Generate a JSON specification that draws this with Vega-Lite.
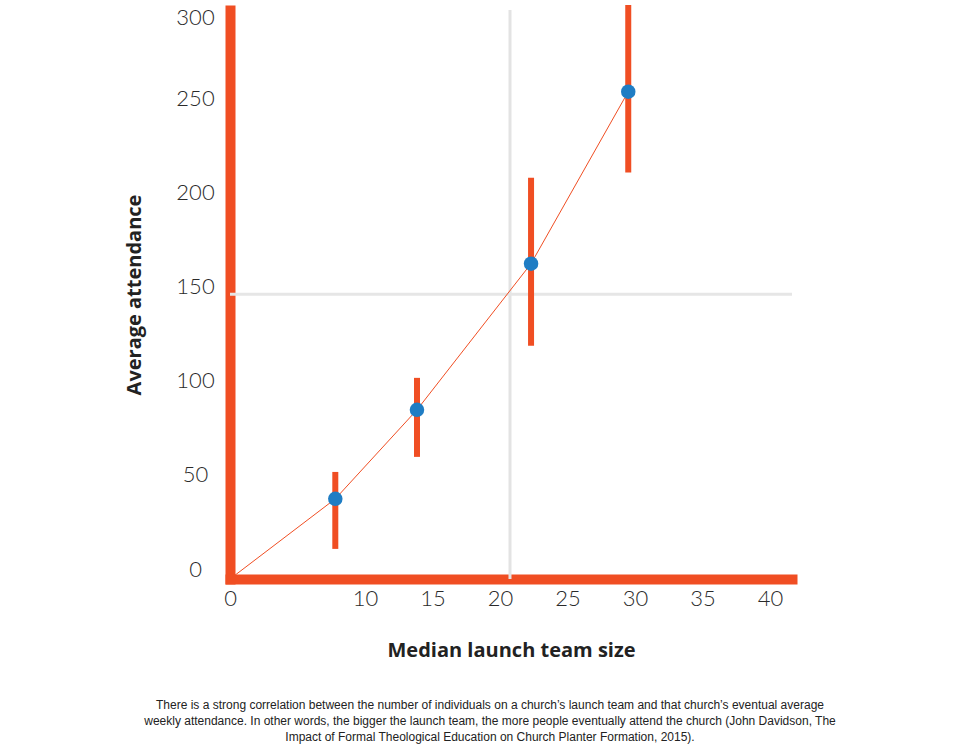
{
  "$schema": "https://vega.github.io/schema/vega-lite/v6.json",
  "autosize": "none",
  "width": 562,
  "height": 569,
  "padding": {"left": 230, "top": 10, "right": 168, "bottom": 166},
  "background": "white",
  "config": {"view": {"stroke": null}},
  "title": {
    "text": [
      "There is a strong correlation between the number of individuals on a church’s launch team and that church’s eventual average",
      "weekly attendance. In other words, the bigger the launch team, the more people eventually attend the church (John Davidson, The",
      "Impact of Formal Theological Education on Church Planter Formation, 2015)."
    ],
    "orient": "bottom",
    "anchor": "middle",
    "dx": -21,
    "offset": 40,
    "font": "Liberation Sans",
    "fontSize": 12,
    "fontWeight": "normal",
    "color": "#222222",
    "lineHeight": 16
  },
  "datasets": {
    "pts": [
      {"size": 7.8, "att": 42.6, "lo": 16.0, "hi": 56.9},
      {"size": 13.85, "att": 89.9, "lo": 64.9, "hi": 106.9},
      {"size": 22.3, "att": 167.6, "lo": 123.9, "hi": 213.3},
      {"size": 29.5, "att": 259.0, "lo": 216.0, "hi": 305.0}
    ],
    "trend": [
      {"size": 0, "att": 0},
      {"size": 7.8, "att": 42.6},
      {"size": 13.85, "att": 89.9},
      {"size": 22.3, "att": 167.6},
      {"size": 29.5, "att": 259.0}
    ],
    "vref": [{"size": 20.74}],
    "href": [{"att": 151.3}]
  },
  "encoding": {
    "x": {
      "field": "size",
      "type": "quantitative",
      "scale": {"domain": [0, 41.63], "nice": false, "zero": false},
      "axis": {
        "title": "Median launch team size",
        "values": [0, 10, 15, 20, 25, 30, 35, 40],
        "grid": false,
        "ticks": false,
        "domainColor": "#F04E23",
        "domainWidth": 10,
        "domainCap": "square",
        "labelFont": "Lato",
        "labelFontWeight": 300,
        "labelFontSize": 22,
        "labelColor": "#2a2a2a",
        "labelBaseline": "middle",
        "labelPadding": 19,
        "labelFlush": false,
        "labelOverlap": false,
        "titleFont": "Open Sans",
        "titleFontWeight": "bold",
        "titleFontSize": 20,
        "titleColor": "#222222",
        "titlePadding": 31
      }
    },
    "y": {
      "field": "att",
      "type": "quantitative",
      "scale": {"domain": [0, 302.4], "nice": false, "zero": false},
      "axis": {
        "title": "Average attendance",
        "values": [0, 50, 100, 150, 200, 250, 300],
        "grid": false,
        "ticks": false,
        "domainColor": "#F04E23",
        "domainWidth": 10,
        "domainCap": "square",
        "labelFont": "Lato",
        "labelFontWeight": 300,
        "labelFontSize": 22,
        "labelColor": "#2a2a2a",
        "labelAlign": "center",
        "labelPadding": 35,
        "labelBaseline": {"condition": {"test": "datum.value >= 300", "value": "top"}, "value": "middle"},
        "labelOffset": {"condition": {"test": "datum.value >= 300", "value": -7}, "value": -10},
        "labelFlush": false,
        "labelOverlap": false,
        "titleFont": "Open Sans",
        "titleFontWeight": "bold",
        "titleFontSize": 20,
        "titleColor": "#222222",
        "titlePadding": 31
      }
    }
  },
  "layer": [
    {
      "data": {"name": "vref"},
      "mark": {"type": "rule", "color": "#e3e3e3", "strokeWidth": 3},
      "encoding": {"y": null}
    },
    {
      "data": {"name": "href"},
      "mark": {"type": "rule", "color": "#e6e6e6", "strokeWidth": 3},
      "encoding": {"x": null}
    },
    {
      "data": {"name": "trend"},
      "mark": {"type": "line", "color": "#F04E23", "strokeWidth": 1}
    },
    {
      "data": {"name": "pts"},
      "mark": {"type": "rule", "color": "#F04E23", "strokeWidth": 6},
      "encoding": {"y": {"field": "lo", "type": "quantitative"}, "y2": {"field": "hi"}}
    },
    {
      "data": {"name": "pts"},
      "mark": {"type": "circle", "color": "#1F7DC4", "opacity": 1, "size": 210}
    }
  ]
}
